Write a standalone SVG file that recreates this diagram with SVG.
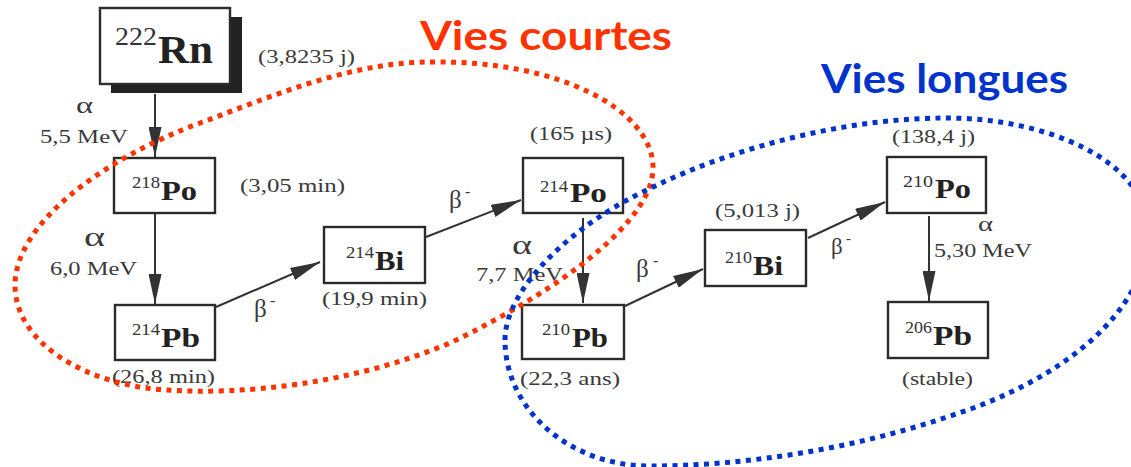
<svg xmlns="http://www.w3.org/2000/svg" width="1131" height="467" viewBox="0 0 1131 467">
<style>
.box{fill:#fff;stroke:#2b2b2b;stroke-width:2.4}
.el{font-family:"Liberation Serif",serif;font-weight:bold;fill:#222}
.sup{font-family:"Liberation Serif",serif;fill:#333}
.sm{font-family:"Liberation Serif",serif;font-size:19px;fill:#3a3a3a}
.gk{font-family:"Liberation Serif",serif;fill:#3a3a3a}
.edge{stroke:#333;stroke-width:2;fill:none;marker-end:url(#ah)}
.title{font-family:"Lato","Noto Sans",sans-serif;font-weight:bold;font-size:40px}
</style>
<defs>
<marker id="ah" markerUnits="userSpaceOnUse" markerWidth="30" markerHeight="13" refX="30" refY="6.5" orient="auto">
<path d="M0,0 L30,6.5 L0,13 Z" fill="#333"/>
</marker>
</defs>
<rect width="1131" height="467" fill="#fff"/>

<g id="connectors">
<line class="edge" x1="155" y1="94" x2="155" y2="157"/>
<line class="edge" x1="155" y1="214" x2="155" y2="304"/>
<line class="edge" x1="216" y1="307" x2="320" y2="262"/>
<line class="edge" x1="426" y1="237" x2="521" y2="200"/>
<line class="edge" x1="583" y1="218" x2="583" y2="303"/>
<line class="edge" x1="625" y1="306" x2="703" y2="269"/>
<line class="edge" x1="808" y1="238" x2="885" y2="202"/>
<line class="edge" x1="929" y1="216" x2="929" y2="301"/>
</g>

<g id="edge-labels">
<text class="gk" font-size="24" x="76" y="113" textLength="17" lengthAdjust="spacingAndGlyphs">α</text>
<text class="sm" x="40" y="143" textLength="88" lengthAdjust="spacingAndGlyphs">5,5 MeV</text>
<text class="gk" font-size="28" x="84" y="246" textLength="21" lengthAdjust="spacingAndGlyphs">α</text>
<text class="sm" x="50" y="275" textLength="87" lengthAdjust="spacingAndGlyphs">6,0 MeV</text>
<text class="gk" font-size="25" x="254" y="317">β</text><text class="gk" font-size="16" x="270" y="306">-</text>
<text class="gk" font-size="25" x="449" y="208">β</text><text class="gk" font-size="16" x="465" y="197">-</text>
<text class="gk" font-size="27" x="512" y="254" textLength="20" lengthAdjust="spacingAndGlyphs">α</text>
<text class="sm" x="476" y="281" textLength="87" lengthAdjust="spacingAndGlyphs">7,7 MeV</text>
<text class="gk" font-size="25" x="636" y="277">β</text><text class="gk" font-size="16" x="653" y="266">-</text>
<text class="gk" font-size="23" x="831" y="254">β</text><text class="gk" font-size="15" x="846" y="243">-</text>
<text class="gk" font-size="22" x="978" y="231" textLength="15" lengthAdjust="spacingAndGlyphs">α</text>
<text class="sm" x="934" y="257" textLength="98" lengthAdjust="spacingAndGlyphs">5,30 MeV</text>
</g>

<g id="n-rn222">
<rect x="111" y="17" width="131" height="76" fill="#222"/>
<rect class="box" x="100" y="8" width="130" height="76"/>
<text class="sup" font-size="25" x="115" y="45" textLength="42" lengthAdjust="spacingAndGlyphs">222</text>
<text class="el" font-size="40" x="158" y="63" textLength="55" lengthAdjust="spacingAndGlyphs">Rn</text>
<text class="sm" x="258" y="63" textLength="97" lengthAdjust="spacingAndGlyphs">(3,8235 j)</text>
</g>

<g id="n-po218">
<rect class="box" x="114" y="158" width="101" height="55"/>
<text class="sup" font-size="17" x="132" y="188" textLength="28" lengthAdjust="spacingAndGlyphs">218</text>
<text class="el" font-size="28" x="161" y="200" textLength="36" lengthAdjust="spacingAndGlyphs">Po</text>
<text class="sm" x="240" y="192" textLength="105" lengthAdjust="spacingAndGlyphs">(3,05 min)</text>
</g>

<g id="n-pb214">
<rect class="box" x="115" y="305" width="100" height="55"/>
<text class="sup" font-size="17" x="132" y="335" textLength="28" lengthAdjust="spacingAndGlyphs">214</text>
<text class="el" font-size="28" x="161" y="347" textLength="39" lengthAdjust="spacingAndGlyphs">Pb</text>
<text class="sm" x="112" y="383" textLength="103" lengthAdjust="spacingAndGlyphs">(26,8 min)</text>
</g>

<g id="n-bi214">
<rect class="box" x="324" y="227" width="101" height="56"/>
<text class="sup" font-size="17" x="346" y="258" textLength="28" lengthAdjust="spacingAndGlyphs">214</text>
<text class="el" font-size="28" x="375" y="270" textLength="29" lengthAdjust="spacingAndGlyphs">Bi</text>
<text class="sm" x="322" y="305" textLength="105" lengthAdjust="spacingAndGlyphs">(19,9 min)</text>
</g>

<g id="n-po214">
<rect class="box" x="523" y="158" width="100" height="55"/>
<text class="sup" font-size="17" x="540" y="192" textLength="28" lengthAdjust="spacingAndGlyphs">214</text>
<text class="el" font-size="28" x="570" y="202" textLength="37" lengthAdjust="spacingAndGlyphs">Po</text>
<text class="sm" x="530" y="140" textLength="82" lengthAdjust="spacingAndGlyphs">(165 µs)</text>
</g>

<g id="n-pb210">
<rect class="box" x="522" y="305" width="102" height="54"/>
<text class="sup" font-size="17" x="542" y="335" textLength="28" lengthAdjust="spacingAndGlyphs">210</text>
<text class="el" font-size="28" x="572" y="347" textLength="36" lengthAdjust="spacingAndGlyphs">Pb</text>
<text class="sm" x="520" y="385" textLength="100" lengthAdjust="spacingAndGlyphs">(22,3 ans)</text>
</g>

<g id="n-bi210">
<rect class="box" x="705" y="230" width="101" height="56"/>
<text class="sup" font-size="17" x="725" y="263" textLength="27" lengthAdjust="spacingAndGlyphs">210</text>
<text class="el" font-size="28" x="753" y="275" textLength="30" lengthAdjust="spacingAndGlyphs">Bi</text>
<text class="sm" x="715" y="217" textLength="85" lengthAdjust="spacingAndGlyphs">(5,013 j)</text>
</g>

<g id="n-po210">
<rect class="box" x="887" y="157" width="99" height="56"/>
<text class="sup" font-size="17" x="903" y="187" textLength="30" lengthAdjust="spacingAndGlyphs">210</text>
<text class="el" font-size="28" x="935" y="198" textLength="36" lengthAdjust="spacingAndGlyphs">Po</text>
<text class="sm" x="892" y="143" textLength="83" lengthAdjust="spacingAndGlyphs">(138,4 j)</text>
</g>

<g id="n-pb206">
<rect class="box" x="888" y="302" width="100" height="56"/>
<text class="sup" font-size="17" x="905" y="333" textLength="27" lengthAdjust="spacingAndGlyphs">206</text>
<text class="el" font-size="28" x="933" y="345" textLength="39" lengthAdjust="spacingAndGlyphs">Pb</text>
<text class="sm" x="902" y="385" textLength="71" lengthAdjust="spacingAndGlyphs">(stable)</text>
</g>

<g id="vies-courtes">
<path d="M430,62 C560,60 650,110 653,165 C656,220 560,290 450,343 C350,385 240,395 167,390 C90,386 15,345 15,285 C15,225 100,160 200,123 C270,97 350,62 430,62 Z" fill="none" stroke="#FF3300" stroke-width="5" stroke-dasharray="5 5.5"/>
<text class="title" fill="#FF3300" x="420" y="50" textLength="252" lengthAdjust="spacingAndGlyphs">Vies courtes</text>
</g>

<g id="vies-longues">
<path d="M505,340 C505,290 570,225 653,187 C740,145 850,118 947,118 C1045,118 1148,160 1148,232 C1148,310 1065,380 947,417 C850,450 740,466 650,466 C570,466 505,410 505,340 Z" fill="none" stroke="#0033CC" stroke-width="5" stroke-dasharray="5 5.5"/>
<text class="title" fill="#0033CC" x="821" y="93" textLength="247" lengthAdjust="spacingAndGlyphs">Vies longues</text>
</g>
</svg>
